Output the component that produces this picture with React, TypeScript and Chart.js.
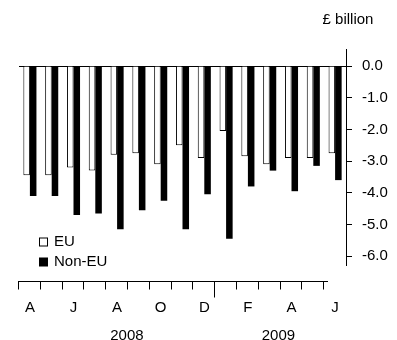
import React, { useEffect, useRef } from "react";
import { Chart, registerables } from "chart.js";

Chart.register(...registerables);

const months = [
  "Apr 2008", "May 2008", "Jun 2008", "Jul 2008", "Aug 2008", "Sep 2008",
  "Oct 2008", "Nov 2008", "Dec 2008", "Jan 2009", "Feb 2009", "Mar 2009",
  "Apr 2009", "May 2009", "Jun 2009",
];
const monthTickLabels = ["A", "", "J", "", "A", "", "O", "", "D", "", "F", "", "A", "", "J"];
const euValues = [-3.45, -3.45, -3.2, -3.3, -2.8, -2.75, -3.1, -2.5, -2.9, -2.05, -2.85, -3.1, -2.9, -2.9, -2.75];
const nonEuValues = [-4.1, -4.1, -4.7, -4.65, -5.15, -4.55, -4.25, -5.15, -4.05, -5.45, -3.8, -3.3, -3.95, -3.15, -3.6];
const yTickValues = [0, -1, -2, -3, -4, -5, -6];
const yearLabels = ["2008", "2009"];
const yearLabelIndex = [4.45, 11.4];
const yearBoundaryIndex = 9;
const unitLabel = "£ billion";
const seriesNames = ["EU", "Non-EU"];

const FONT = "'Liberation Sans', Arial, Helvetica, sans-serif";

const overlayPlugin = {
  id: "overlay",
  afterDraw(chart: any) {
    const ctx = chart.ctx;
    const x = chart.scales.x;
    const p0 = x.getPixelForValue(0);
    const w = x.getPixelForValue(1) - p0;
    const boundary = (k: number) => p0 - w / 2 + k * w;
    ctx.save();
    ctx.strokeStyle = "#000";
    ctx.fillStyle = "#000";
    ctx.lineWidth = 1;
    // bottom axis line
    const axisY = 281.5;
    ctx.beginPath();
    ctx.moveTo(Math.round(boundary(0)) - 1, axisY);
    ctx.lineTo(Math.round(boundary(14)) + 4, axisY);
    ctx.stroke();
    for (let k = 0; k <= 14; k++) {
      const bx = Math.round(boundary(k)) - 0.5;
      ctx.beginPath();
      ctx.moveTo(bx, axisY);
      ctx.lineTo(bx, axisY + (k === yearBoundaryIndex ? 16 : 8));
      ctx.stroke();
    }
    // year labels
    ctx.font = `15px ${FONT}`;
    ctx.textAlign = "center";
    ctx.textBaseline = "middle";
    yearLabels.forEach((lab, i) => {
      ctx.fillText(lab, p0 + yearLabelIndex[i] * w, 336);
    });
    // unit label
    ctx.fillText(unitLabel, 348, 20);
    // legend
    ctx.textAlign = "left";
    const ds = chart.data.datasets;
    const rows = [242, 262];
    rows.forEach((cy, i) => {
      const d = ds[i];
      ctx.fillStyle = d.backgroundColor;
      ctx.fillRect(39, cy - 4.5, 9, 9);
      if (i === 0) {
        ctx.strokeStyle = "#000";
        ctx.strokeRect(39.5, cy - 4, 8, 8);
      }
      ctx.fillStyle = "#000";
      ctx.fillText(d.label, 54, cy);
    });
    ctx.restore();
  },
};

export default function App() {
  const ref = useRef<HTMLCanvasElement | null>(null);
  useEffect(() => {
    if (!ref.current) return;
    Chart.defaults.font.family = FONT;
    const chart = new Chart(ref.current, {
      type: "bar",
      data: {
        labels: months,
        datasets: [
          {
            label: seriesNames[0],
            data: euValues,
            backgroundColor: "#ffffff",
            borderColor: "#000000",
            borderWidth: 1,
            categoryPercentage: 0.6,
            barPercentage: 1,
          },
          {
            label: seriesNames[1],
            data: nonEuValues,
            backgroundColor: "#000000",
            borderWidth: 0,
            categoryPercentage: 0.6,
            barPercentage: 1,
          },
        ],
      },
      options: {
        animation: false,
        responsive: true,
        maintainAspectRatio: false,
        layout: { padding: { left: 19, top: 49, right: 0, bottom: 0 } },
        plugins: {
          legend: { display: false },
          tooltip: { enabled: false },
          title: { display: false },
        },
        scales: {
          x: {
            position: "bottom",
            grid: {
              display: true,
              drawOnChartArea: false,
              drawTicks: true,
              tickLength: 34,
              color: "rgba(0,0,0,0)",
              tickColor: "rgba(0,0,0,0)",
            },
            border: { display: false },
            ticks: {
              autoSkip: false,
              maxRotation: 0,
              minRotation: 0,
              padding: 0,
              color: "#000",
              font: { size: 15, family: FONT },
              callback: (_v: any, i: number) => monthTickLabels[i],
            },
            afterFit: (s: any) => {
              s.height = 75;
            },
          },
          y: {
            position: "right",
            min: -6.28,
            max: 0.54,
            afterBuildTicks: (s: any) => {
              s.ticks = yTickValues.map((v) => ({ value: v }));
            },
            grid: {
              drawOnChartArea: true,
              drawTicks: true,
              tickLength: 6,
              color: (c: any) => (c.tick && c.tick.value === 0 ? "#000" : "rgba(0,0,0,0)"),
              tickColor: "#000",
              lineWidth: 1,
            },
            border: { display: true, color: "#000", width: 1 },
            ticks: {
              padding: 10,
              color: "#000",
              font: { size: 15, family: FONT },
              callback: (v: any) => Number(v).toFixed(1),
            },
            afterFit: (s: any) => {
              s.width = 51;
            },
          },
        },
      },
      plugins: [overlayPlugin],
    } as any);
    return () => chart.destroy();
  }, []);
  return (
    <div style={{ position: "fixed", left: 0, top: 0, width: 397, height: 340, background: "#fff" }}>
      <canvas ref={ref} />
    </div>
  );
}
